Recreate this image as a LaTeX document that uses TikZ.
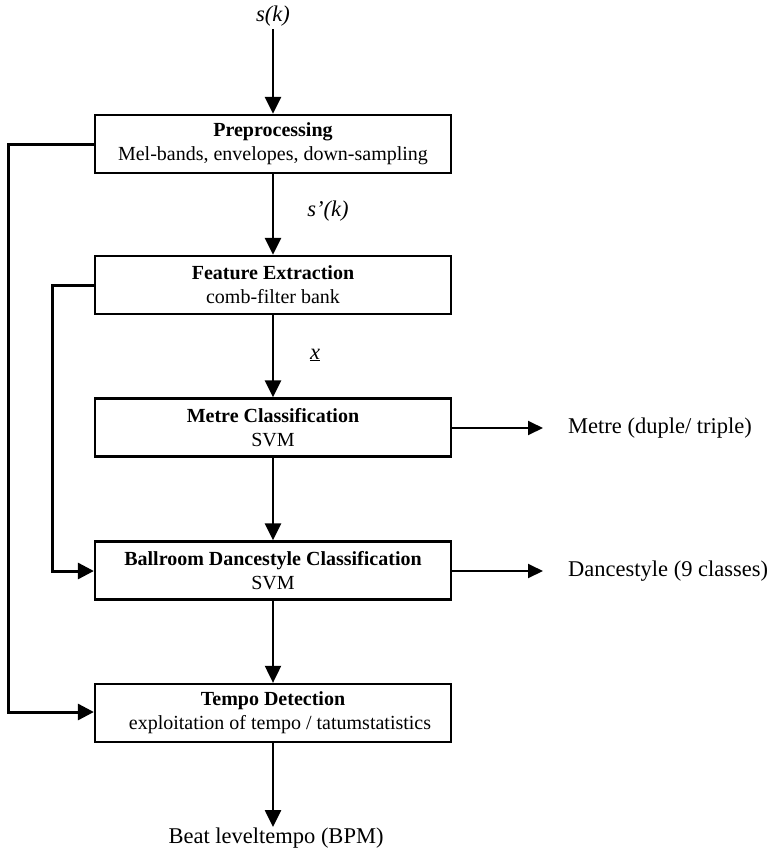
\documentclass[tikz,border=0pt]{standalone}
\usepackage{fontspec}
\setmainfont{Liberation Serif}
\usetikzlibrary{arrows.meta}
\begin{document}
\begin{tikzpicture}[x=1pt,y=-1pt,
  stage/.style={draw,line width=2.3pt,minimum width=356pt,minimum height=58pt,
    inner sep=0pt,align=center,font=\fontsize{20}{24}\selectfont},
  flow/.style={line width=2.6pt,-{Triangle[width=16pt,length=17pt]}},
  side/.style={line width=1.9pt,-{Triangle[width=14pt,length=15pt]}},
  back/.style={line width=3pt,-{Triangle[width=16pt,length=16pt]}},
  lbl/.style={inner sep=0pt,font=\fontsize{22.5}{26}\selectfont}]
\useasboundingbox (0,0) rectangle (772,852);

% processing stages
\node[stage] (pre)   at (273,144) {\textbf{Preprocessing}\\Mel-bands, envelopes, down-sampling};
\node[stage] (feat)  at (273,285) {\textbf{Feature Extraction}\\comb-filter bank};
\node[stage] (metre) at (273,427.5) {\textbf{Metre Classification}\\SVM};
\node[stage] (dance) at (273,570.5) {\textbf{Ballroom Dancestyle Classification}\\SVM};
\node[stage] (tempo) at (273,713) {\textbf{Tempo Detection}\\\hspace*{14pt}exploitation of tempo / tatumstatistics};

% signals and outputs
\node[lbl] (in)  at (273,16) {\textit{s(k)}};
\node[lbl] (sp)  at (328,211) {\textit{s'(k)}};
\node[lbl] (xv)  at (315,355) {\underline{\textit{x}}};
\node[lbl,anchor=west] (mout) at (568,428) {Metre (duple/ triple)};
\node[lbl,anchor=west] (dout) at (568,571) {Dancestyle (9 classes)};
\node[lbl] (bout) at (276,838) {Beat leveltempo (BPM)};

\coordinate (inTop) at (273,29);
\coordinate (boutTop) at (273,827);
\coordinate (mTip) at (543,428);
\coordinate (dTip) at (543,571);

% main chain
\draw[flow] (inTop) -- (pre.north);
\draw[flow] (pre.south) -- (feat.north);
\draw[flow] (feat.south) -- (metre.north);
\draw[flow] (metre.south) -- (dance.north);
\draw[flow,line width=2pt] (dance.south) -- (tempo.north);
\draw[flow] (tempo.south) -- (boutTop);

% class outputs
\draw[side] (metre.east |- mTip) -- (mTip);
\draw[side] (dance.east |- dTip) -- (dTip);

% bypass lines
\draw[back] (pre.west) -- (8,144) -- (8,712) -- (tempo.west |- 0,712);
\draw[back] (feat.west) -- (52,285) -- (52,571) -- (dance.west |- 0,571);
\end{tikzpicture}
\end{document}
